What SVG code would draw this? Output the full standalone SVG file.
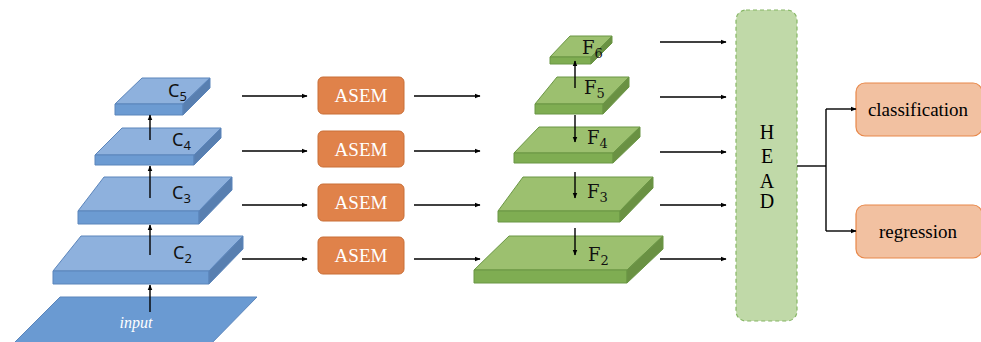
<svg xmlns="http://www.w3.org/2000/svg" width="981" height="342" viewBox="0 0 981 342">
<defs>
<marker id="ah" viewBox="0 0 10 10" refX="9" refY="5" markerWidth="6" markerHeight="6" orient="auto" markerUnits="userSpaceOnUse">
<path d="M0,1 L10,5 L0,9 z" fill="#000"/>
</marker>
<style>
.bt{fill:#8EB1DD;stroke:#5B85BB;stroke-width:1}
.bf{fill:#6C9BD2;stroke:#5B85BB;stroke-width:1}
.bs{fill:#587FB0;stroke:#5B85BB;stroke-width:1}
.gt{fill:#9CC06F;stroke:#6A9644;stroke-width:1}
.gf{fill:#7FAD52;stroke:#6A9644;stroke-width:1}
.gs{fill:#6A9143;stroke:#6A9644;stroke-width:1}
.ln{stroke:#000;stroke-width:1.4;fill:none}
.ar{stroke:#000;stroke-width:1.4;fill:none;marker-end:url(#ah)}
.labc{font-family:"Noto Sans","Liberation Sans",sans-serif;font-size:18px;fill:#111}
.lab{font-family:"DejaVu Serif","Liberation Serif",serif;font-size:18px;fill:#111}
.asem{fill:#E0824A;stroke:#C96E36;stroke-width:1}
.asemt{font-family:"Liberation Serif",serif;font-size:19px;fill:#fff;text-anchor:middle}
.out{fill:#F2C1A1;stroke:#E8884A;stroke-width:1.2}
.outt{font-family:"Liberation Serif",serif;font-size:19px;fill:#000;text-anchor:middle}
.headt{font-family:"Liberation Serif",serif;font-size:20px;fill:#000;text-anchor:middle}
</style>
</defs>

<g id="input">
<polygon points="60,297 257,297 205,350 7,350" fill="#6A9AD2" stroke="#5B85BB" stroke-width="1"/>
<text x="136" y="328" font-family="Liberation Serif,serif" font-style="italic" font-size="16" fill="#fff" text-anchor="middle">input</text>
</g>

<g id="C2">
<polygon class="bt" points="53,271 209,271 243,236 81,236"/>
<polygon class="bf" points="53,271 209,271 209,284 53,284"/>
<polygon class="bs" points="209,271 243,236 243,249 209,284"/>
<text class="labc" x="173" y="259">C<tspan font-size="13" dy="4">2</tspan></text>
</g>
<g id="C3">
<polygon class="bt" points="78,211 199,211 232,177 104,177"/>
<polygon class="bf" points="78,211 199,211 199,224 78,224"/>
<polygon class="bs" points="199,211 232,177 232,190 199,224"/>
<text class="labc" x="172" y="199">C<tspan font-size="13" dy="4">3</tspan></text>
</g>
<g id="C4">
<polygon class="bt" points="95,155 194,155 221,128 122,128"/>
<polygon class="bf" points="95,155 194,155 194,165 95,165"/>
<polygon class="bs" points="194,155 221,128 221,138 194,165"/>
<text class="labc" x="172" y="146">C<tspan font-size="13" dy="4">4</tspan></text>
</g>
<g id="C5">
<polygon class="bt" points="115,104 183,104 210,78 142,78"/>
<polygon class="bf" points="115,104 183,104 183,115 115,115"/>
<polygon class="bs" points="183,104 210,78 210,88 183,115"/>
<text class="labc" x="168" y="97">C<tspan font-size="13" dy="4">5</tspan></text>
</g>

<g id="ASEM1"><rect class="asem" x="318" y="77" width="86" height="37" rx="5"/><text class="asemt" x="361" y="102">ASEM</text></g>
<g id="ASEM2"><rect class="asem" x="318" y="131" width="86" height="36" rx="5"/><text class="asemt" x="361" y="156">ASEM</text></g>
<g id="ASEM3"><rect class="asem" x="318" y="184" width="86" height="37" rx="5"/><text class="asemt" x="361" y="209">ASEM</text></g>
<g id="ASEM4"><rect class="asem" x="318" y="237" width="86" height="37" rx="5"/><text class="asemt" x="361" y="262">ASEM</text></g>

<g id="F2">
<polygon class="gt" points="474,270 627,270 663,236 509,236"/>
<polygon class="gf" points="474,270 627,270 627,283 474,283"/>
<polygon class="gs" points="627,270 663,236 663,249 627,283"/>
<text class="lab" x="588" y="261">F<tspan font-size="13" dy="4">2</tspan></text>
</g>
<g id="F3">
<polygon class="gt" points="498,211 620,211 653,177 523,177"/>
<polygon class="gf" points="498,211 620,211 620,222 498,222"/>
<polygon class="gs" points="620,211 653,177 653,188 620,222"/>
<text class="lab" x="587" y="198">F<tspan font-size="13" dy="4">3</tspan></text>
</g>
<g id="F4">
<polygon class="gt" points="514,153 613,153 640,127 539,127"/>
<polygon class="gf" points="514,153 613,153 613,163 514,163"/>
<polygon class="gs" points="613,153 640,127 640,137 613,163"/>
<text class="lab" x="587" y="144">F<tspan font-size="13" dy="4">4</tspan></text>
</g>
<g id="F5">
<polygon class="gt" points="535,104 603,104 629,77 557,77"/>
<polygon class="gf" points="535,104 603,104 603,114 535,114"/>
<polygon class="gs" points="603,104 629,77 629,87 603,114"/>
<text class="lab" x="584" y="94">F<tspan font-size="13" dy="4">5</tspan></text>
</g>
<g id="F6">
<polygon class="gt" points="550,57 591,57 612,36 570,36"/>
<polygon class="gf" points="550,57 591,57 591,64 550,64"/>
<polygon class="gs" points="591,57 612,36 612,43 591,64"/>
<text class="lab" x="582" y="54">F<tspan font-size="13" dy="4">6</tspan></text>
</g>

<g id="HEAD">
<rect x="736" y="10" width="61" height="311" rx="10" fill="#C0D9A8" stroke="#86B665" stroke-width="1.2" stroke-dasharray="4,3"/>
<text class="headt" x="767" y="139">H</text>
<text class="headt" x="767" y="163">E</text>
<text class="headt" x="767" y="188">A</text>
<text class="headt" x="767" y="208">D</text>
</g>

<g id="classification"><rect class="out" x="856" y="83" width="126" height="53" rx="9"/><text class="outt" x="918" y="116">classification</text></g>
<g id="regression"><rect class="out" x="856" y="205" width="126" height="53" rx="9"/><text class="outt" x="918" y="238">regression</text></g>

<g id="connectors">
<line class="ar" x1="150" y1="312" x2="150" y2="285"/>
<line class="ar" x1="150" y1="255" x2="150" y2="225"/>
<line class="ar" x1="150" y1="198" x2="150" y2="166"/>
<line class="ar" x1="150" y1="140" x2="150" y2="115"/>

<line class="ar" x1="242" y1="96" x2="307" y2="96"/>
<line class="ar" x1="242" y1="151" x2="307" y2="151"/>
<line class="ar" x1="242" y1="205" x2="307" y2="205"/>
<line class="ar" x1="242" y1="259" x2="307" y2="259"/>

<line class="ar" x1="414" y1="96" x2="480" y2="96"/>
<line class="ar" x1="414" y1="151" x2="480" y2="151"/>
<line class="ar" x1="414" y1="205" x2="480" y2="205"/>
<line class="ar" x1="414" y1="259" x2="480" y2="259"/>

<line class="ar" x1="575" y1="88" x2="575" y2="61"/>
<line class="ar" x1="575" y1="115" x2="575" y2="142"/>
<line class="ar" x1="575" y1="172" x2="575" y2="198"/>
<line class="ar" x1="575" y1="228" x2="575" y2="255"/>

<line class="ar" x1="660" y1="42" x2="726" y2="42"/>
<line class="ar" x1="660" y1="97" x2="726" y2="97"/>
<line class="ar" x1="660" y1="152" x2="726" y2="152"/>
<line class="ar" x1="660" y1="205" x2="726" y2="205"/>
<line class="ar" x1="660" y1="259" x2="726" y2="259"/>

<line class="ln" x1="797" y1="166" x2="826" y2="166"/>
<line class="ln" x1="826" y1="109" x2="826" y2="231"/>
<line class="ar" x1="826" y1="109" x2="856" y2="109"/>
<line class="ar" x1="826" y1="231" x2="856" y2="231"/>
</g>
</svg>
